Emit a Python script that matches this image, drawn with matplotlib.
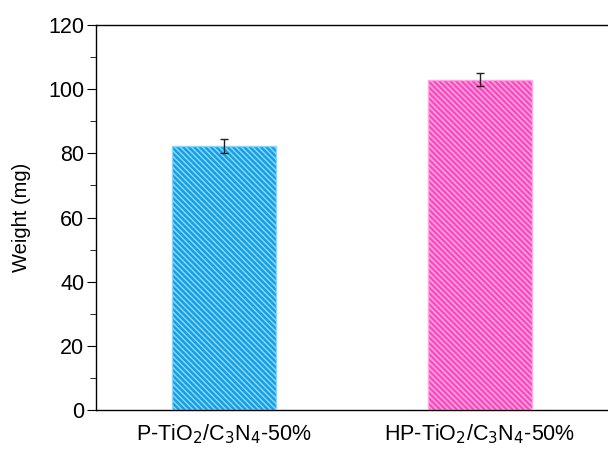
import matplotlib
matplotlib.use("Agg")
import matplotlib.pyplot as plt
from matplotlib.ticker import MultipleLocator

plt.rcParams["font.family"] = ["Liberation Sans", "DejaVu Sans"]
plt.rcParams["hatch.linewidth"] = 1.1

amostras = [r"P-TiO$_2$/C$_3$N$_4$-50%", r"HP-TiO$_2$/C$_3$N$_4$-50%"]
peso = [82.3, 102.9]
erro = [2.2, 2.0]
cores = ["#139fe6", "#f84cbd"]
hachuras = ["#8ad6fb", "#ffa6e3"]
posicoes = [1, 2]

fig = plt.figure(figsize=(6.08, 4.5), dpi=100)
ax = fig.add_axes([96 / 608, 1 - 410 / 450, 1 - 96 / 608, 385 / 450])

for x, y, e, c, h in zip(posicoes, peso, erro, cores, hachuras):
    ax.bar(x, y, width=0.41, color=c, edgecolor=h, hatch="\\" * 6,
           linewidth=0, zorder=2)
    ax.bar(x, y, width=0.41, fill=False, edgecolor=h, linewidth=1.0, zorder=3)
    ax.errorbar(x, y, yerr=e, fmt="none", ecolor="#222222", elinewidth=1.0,
                capsize=3, capthick=1.0, zorder=4)

ax.set_xlim(0.5, 2.5)
ax.set_ylim(0, 120)
ax.yaxis.set_major_locator(MultipleLocator(20))
ax.yaxis.set_minor_locator(MultipleLocator(10))
ax.set_xticks(posicoes)
ax.set_xticklabels(amostras, fontsize=15.5)
ax.tick_params(axis="x", length=0, pad=9)
ax.tick_params(axis="y", which="major", direction="out", length=6.5, labelsize=15.5, pad=2)
ax.tick_params(axis="y", which="minor", direction="out", length=4)
ax.spines["right"].set_visible(False)
for s in ["left", "top", "bottom"]:
    ax.spines[s].set_linewidth(1.0)
ax.set_ylabel("Weight (mg)", fontsize=14.5, labelpad=12)

fig.savefig("out.png", dpi=100)
